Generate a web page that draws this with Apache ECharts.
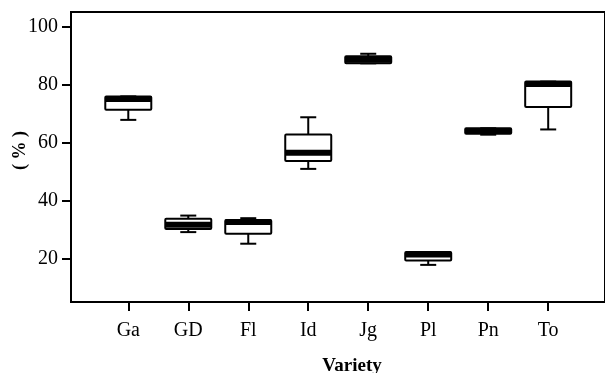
<!DOCTYPE html>
<html><head><meta charset="utf-8">
<script src="https://cdn.jsdelivr.net/npm/echarts@6/dist/echarts.min.js"></script>
<style>html,body{margin:0;padding:0;background:#fff}#c{width:605px;height:373px}</style>
</head><body><div id="c"></div>
<script>
const categories = ['Ga','GD','Fl','Id','Jg','Pl','Pn','To'];
const mins    = [67.8, 29.1, 25.1, 50.9, 87.3, 17.8, 62.7, 64.5];
const q1s     = [71.3, 30.2, 28.5, 53.6, 87.3, 19.3, 63.0, 72.2];
const medians = [75.0, 31.6, 32.6, 56.5, 88.5, 21.4, 64.0, 80.2];
const q3s     = [75.9, 33.7, 33.3, 62.8, 89.7, 22.2, 64.9, 81.0];
const maxs    = [75.9, 34.8, 33.9, 68.7, 90.6, 22.2, 64.9, 81.0];
const yTicks  = [20, 40, 60, 80, 100];
const xTicks  = categories.map((c, i) => i);

const FONT = 'Liberation Serif';
const chart = echarts.init(document.getElementById('c'), null, {renderer: 'canvas'});
const boxData = categories.map((c, i) => [i, mins[i], q1s[i], medians[i], q3s[i], maxs[i]]);

function renderItem(params, api) {
  const x = api.value(0);
  const pMin = api.coord([x, api.value(1)]);
  const pQ1 = api.coord([x, api.value(2)]);
  const pMed = api.coord([x, api.value(3)]);
  const pQ3 = api.coord([x, api.value(4)]);
  const pMax = api.coord([x, api.value(5)]);
  const cx = pMin[0];
  const bw = 46, cw = 16, mh = 6;
  const ls = {stroke: '#000', lineWidth: 2};
  return {
    type: 'group',
    children: [
      {type: 'line', shape: {x1: cx, y1: pMax[1], x2: cx, y2: pQ3[1]}, style: ls},
      {type: 'line', shape: {x1: cx, y1: pQ1[1], x2: cx, y2: pMin[1]}, style: ls},
      {type: 'line', shape: {x1: cx - cw / 2, y1: pMax[1], x2: cx + cw / 2, y2: pMax[1]}, style: ls},
      {type: 'line', shape: {x1: cx - cw / 2, y1: pMin[1], x2: cx + cw / 2, y2: pMin[1]}, style: ls},
      {type: 'rect', shape: {x: cx - bw / 2, y: pQ3[1], width: bw, height: pQ1[1] - pQ3[1], r: 1},
        style: {fill: '#fff', stroke: '#000', lineWidth: 2}},
      {type: 'rect', shape: {x: cx - bw / 2, y: pMed[1] - mh / 2, width: bw, height: mh, r: 1},
        style: {fill: '#000'}}
    ]
  };
}

chart.setOption({
  animation: false,
  backgroundColor: '#fff',
  grid: {left: 71, top: 12, right: -1, bottom: 71, show: true, borderColor: '#000', borderWidth: 2},
  xAxis: {
    type: 'value', min: -0.955, max: 7.947,
    splitLine: {show: false},
    axisLine: {show: false, onZero: false},
    axisTick: {show: true, customValues: xTicks, length: 9, lineStyle: {color: '#000', width: 2}},
    axisLabel: {show: true, customValues: xTicks, margin: 19, color: '#000', fontFamily: FONT, fontSize: 20,
      formatter: v => categories[Math.round(v)]}
  },
  yAxis: {
    type: 'value', min: 5, max: 105,
    splitLine: {show: false},
    axisLine: {show: false, onZero: false},
    axisTick: {show: true, customValues: yTicks, length: 9, lineStyle: {color: '#000', width: 2}},
    axisLabel: {show: true, customValues: yTicks, margin: 13, color: '#000', fontFamily: FONT, fontSize: 20}
  },
  graphic: [
    {type: 'text', x: 20, y: 150.5, rotation: Math.PI / 2,
      style: {text: '( % )', fill: '#000', font: 'bold 18px "Liberation Serif"', textAlign: 'center', textVerticalAlign: 'middle'}},
    {type: 'text', x: 352, y: 357,
      style: {text: 'Variety', fill: '#000', font: 'bold 19px "Liberation Serif"', textAlign: 'center', textVerticalAlign: 'top'}}
  ],
  series: [{
    type: 'custom',
    renderItem: renderItem,
    data: boxData,
    encode: {x: 0, y: [1, 2, 3, 4, 5]},
    clip: false
  }]
});
</script>
</body></html>
